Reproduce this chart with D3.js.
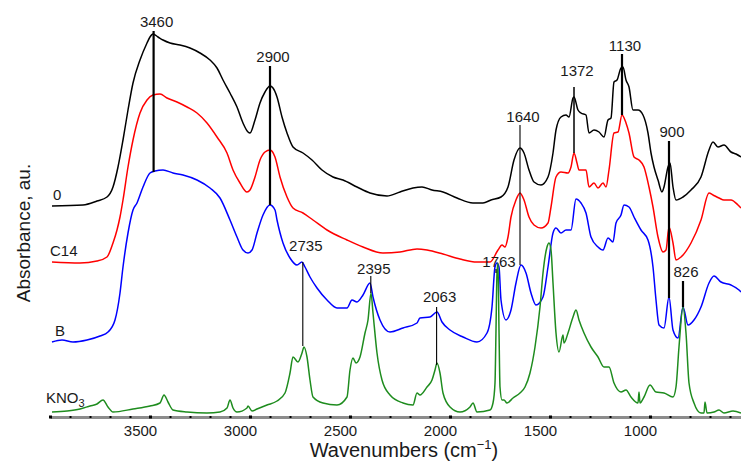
<!DOCTYPE html>
<html><head><meta charset="utf-8">
<script src="https://cdn.jsdelivr.net/npm/d3@7"></script>
<style>body{margin:0;background:#fff}svg{display:block;font-family:"Liberation Sans",Arial,sans-serif}</style>
</head><body><svg id="c" width="741" height="463"></svg>
<script>
// ---- data: [wavenumber (cm-1), absorbance (a.u., stacked)] ----
const series0 = [[3990,2.11],[3835,2.12],[3765,2.16],[3715,2.20],[3685,2.30],[3660,2.50],[3635,2.77],[3610,3.07],[3585,3.34],[3550,3.57],[3515,3.74],[3500,3.80],[3485,3.83],[3460,3.80],[3435,3.77],[3400,3.74],[3350,3.72],[3300,3.69],[3250,3.64],[3200,3.57],[3165,3.49],[3135,3.37],[3100,3.24],[3065,3.10],[3035,2.94],[3010,2.85],[3000,2.84],[2975,2.97],[2950,3.14],[2925,3.25],[2900,3.31],[2885,3.29],[2865,3.20],[2840,3.00],[2815,2.84],[2785,2.70],[2735,2.64],[2690,2.57],[2640,2.47],[2585,2.40],[2535,2.37],[2465,2.30],[2400,2.24],[2315,2.21],[2250,2.25],[2185,2.29],[2140,2.30],[2090,2.27],[2035,2.25],[1965,2.19],[1885,2.14],[1835,2.14],[1795,2.17],[1745,2.20],[1710,2.30],[1680,2.57],[1650,2.69],[1630,2.64],[1605,2.47],[1580,2.35],[1545,2.32],[1510,2.40],[1485,2.64],[1470,2.87],[1445,3.00],[1420,3.02],[1405,3.00],[1385,3.19],[1380,3.20],[1360,3.07],[1345,3.04],[1320,3.02],[1305,2.84],[1280,2.87],[1255,2.85],[1230,2.80],[1210,2.97],[1195,2.99],[1180,3.35],[1165,3.37],[1145,3.49],[1135,3.50],[1120,3.37],[1105,3.30],[1085,3.07],[1060,3.07],[1035,3.02],[1010,2.84],[995,2.64],[980,2.50],[960,2.37],[940,2.25],[930,2.30],[910,2.50],[900,2.54],[885,2.30],[870,2.17],[835,2.20],[795,2.27],[745,2.40],[705,2.67],[685,2.75],[660,2.70],[630,2.72],[595,2.65],[570,2.63],[545,2.60]];
const seriesC14 = [[3990,1.55],[3850,1.54],[3765,1.56],[3715,1.60],[3685,1.74],[3665,1.87],[3650,2.00],[3635,2.17],[3610,2.50],[3585,2.77],[3550,3.04],[3515,3.17],[3485,3.22],[3450,3.23],[3415,3.19],[3365,3.15],[3315,3.10],[3265,3.04],[3215,2.94],[3165,2.80],[3115,2.64],[3085,2.47],[3050,2.34],[3015,2.25],[3000,2.27],[2975,2.40],[2950,2.57],[2925,2.65],[2900,2.67],[2875,2.60],[2850,2.40],[2815,2.20],[2785,2.09],[2735,2.04],[2685,1.97],[2615,1.87],[2515,1.77],[2435,1.70],[2335,1.64],[2250,1.65],[2165,1.68],[2115,1.67],[2035,1.63],[1950,1.58],[1865,1.55],[1800,1.55],[1760,1.67],[1740,1.72],[1725,1.70],[1710,1.80],[1695,2.00],[1670,2.17],[1650,2.24],[1630,2.17],[1605,2.00],[1580,1.92],[1545,1.89],[1510,1.94],[1495,2.10],[1470,2.40],[1445,2.45],[1410,2.44],[1395,2.50],[1380,2.64],[1365,2.54],[1355,2.47],[1320,2.47],[1305,2.30],[1280,2.34],[1260,2.29],[1235,2.34],[1220,2.30],[1205,2.47],[1180,2.84],[1160,2.85],[1140,3.02],[1120,2.94],[1105,2.84],[1080,2.60],[1055,2.57],[1030,2.50],[1005,2.30],[985,2.10],[960,1.80],[935,1.65],[920,1.67],[905,1.90],[885,1.74],[870,1.57],[845,1.60],[795,1.74],[745,1.97],[705,2.24],[685,2.22],[655,2.19],[630,2.17],[595,2.17],[560,2.12],[545,2.09]];
const seriesB = [[3990,0.75],[3940,0.77],[3885,0.75],[3815,0.77],[3750,0.81],[3710,0.85],[3675,0.97],[3650,1.24],[3635,1.50],[3610,1.84],[3585,2.07],[3565,2.14],[3535,2.30],[3500,2.44],[3475,2.46],[3435,2.47],[3385,2.44],[3335,2.42],[3265,2.37],[3200,2.29],[3150,2.19],[3100,1.97],[3065,1.80],[3035,1.67],[3010,1.64],[2990,1.67],[2965,1.84],[2935,2.02],[2900,2.12],[2875,2.07],[2865,1.97],[2835,1.74],[2800,1.59],[2765,1.52],[2740,1.55],[2725,1.50],[2700,1.40],[2665,1.29],[2615,1.17],[2565,1.09],[2515,1.09],[2490,1.17],[2465,1.15],[2435,1.22],[2400,1.34],[2385,1.20],[2350,0.97],[2300,0.85],[2235,0.89],[2165,0.94],[2150,0.99],[2100,1.00],[2065,1.05],[2040,0.95],[2000,0.87],[1935,0.80],[1865,0.75],[1815,0.84],[1790,1.10],[1775,1.50],[1765,1.54],[1755,1.50],[1745,1.17],[1720,0.97],[1695,1.07],[1670,1.34],[1645,1.52],[1620,1.44],[1595,1.24],[1570,1.12],[1535,1.20],[1510,1.50],[1485,1.84],[1470,1.89],[1445,1.84],[1420,1.87],[1395,1.87],[1370,2.18],[1345,2.14],[1320,2.04],[1295,1.80],[1260,1.70],[1235,1.67],[1210,1.79],[1185,1.75],[1170,1.94],[1145,2.02],[1130,2.12],[1105,2.10],[1080,2.00],[1045,1.87],[1010,1.77],[985,1.50],[970,1.17],[955,0.92],[930,0.89],[905,1.20],[885,0.87],[860,0.79],[835,1.10],[810,0.92],[780,0.97],[745,1.10],[705,1.34],[680,1.41],[645,1.35],[595,1.32],[555,1.27],[545,1.25]];
const seriesKNO3 = [[3990,0.05],[3915,0.06],[3850,0.08],[3800,0.11],[3765,0.13],[3735,0.17],[3710,0.10],[3685,0.05],[3585,0.08],[3500,0.11],[3450,0.14],[3430,0.22],[3410,0.15],[3385,0.07],[3315,0.05],[3215,0.04],[3150,0.05],[3115,0.09],[3100,0.17],[3085,0.09],[3065,0.05],[3015,0.09],[3010,0.11],[2990,0.06],[2965,0.08],[2915,0.12],[2865,0.16],[2825,0.24],[2800,0.44],[2785,0.60],[2760,0.55],[2740,0.64],[2730,0.70],[2715,0.60],[2700,0.37],[2685,0.20],[2635,0.14],[2565,0.12],[2515,0.20],[2500,0.47],[2485,0.59],[2470,0.54],[2450,0.60],[2425,0.84],[2410,0.97],[2395,1.24],[2385,1.04],[2365,0.64],[2340,0.37],[2300,0.22],[2235,0.14],[2185,0.12],[2165,0.24],[2150,0.22],[2115,0.30],[2090,0.37],[2075,0.47],[2065,0.54],[2050,0.44],[2035,0.24],[2000,0.10],[1950,0.05],[1900,0.10],[1885,0.14],[1865,0.05],[1800,0.07],[1785,0.14],[1775,0.34],[1770,0.87],[1765,1.44],[1760,1.54],[1755,0.87],[1750,0.30],[1740,0.17],[1730,0.17],[1715,0.14],[1685,0.19],[1650,0.24],[1625,0.30],[1600,0.44],[1575,0.70],[1550,1.10],[1535,1.44],[1515,1.70],[1505,1.74],[1495,1.67],[1485,1.34],[1470,0.84],[1455,0.65],[1435,0.82],[1430,0.74],[1410,0.84],[1385,1.00],[1370,1.07],[1355,0.97],[1330,0.84],[1295,0.70],[1260,0.60],[1230,0.50],[1205,0.50],[1180,0.34],[1145,0.25],[1120,0.27],[1095,0.20],[1060,0.14],[1055,0.25],[1050,0.14],[1030,0.20],[1000,0.32],[970,0.25],[930,0.24],[885,0.20],[870,0.30],[855,0.70],[835,1.10],[820,0.84],[805,0.34],[780,0.14],[745,0.04],[730,0.04],[725,0.15],[715,0.04],[680,0.05],[655,0.07],[630,0.04],[585,0.06],[545,0.04]];

const seriesNames = ["0", "C14", "B", "KNO3"];
const seriesColors = ["#000000", "#ff0000", "#0000ff", "#1e8c1e"];
const seriesData = [series0, seriesC14, seriesB, seriesKNO3];

// peak annotations
const peakLabels = ["3460","2900","2735","2395","2063","1763","1640","1372","1130","900","826"];
const peakPos    = [3482, 2900, 2736, 2396, 2067, 1770, 1650, 1380, 1140, 905, 835];
const peakTop    = [3.86, 3.51, 1.55, 1.41, 1.10, 1.48, 2.92, 3.30, 3.63, 2.76, 1.36];
const peakBottom = [2.45, 2.12, 0.71, 1.24, 0.52, 1.44, 1.52, 2.64, 3.02, 1.19, 1.10];
const peakLabelY = [3.90, 3.55, 1.66, 1.43, 1.15, 1.50, 2.95, 3.41, 3.66, 2.80, 1.40];

const xTicks = d3.range(4000, 500, -100);
const xTickLabels = [3500, 3000, 2500, 2000, 1500, 1000];

// ---- drawing ----
const svg = d3.select("#c");
const x = d3.scaleLinear().domain([4000, 545]).range([50, 741]);
const y = d3.scaleLinear().domain([0, 4]).range([417, 17]);

const thick = new Set(["3460","2900","1130","900","826"]);
const medium = new Set(["1372"]);

// axis
const ax = svg.append("g").attr("transform", "translate(0,417)")
  .call(d3.axisBottom(x).tickValues(xTicks).tickSize(0).tickSizeOuter(0).tickPadding(8)
    .tickFormat(d => xTickLabels.includes(d) ? d : ""));
ax.select(".domain").attr("stroke", "#8c8c8c").attr("stroke-width", 3);
ax.selectAll(".tick text").attr("dx", -10).attr("font-size", 15).attr("fill", "#1a1a1a")
  .attr("font-family", "Liberation Sans, Arial, sans-serif");
ax.selectAll(".tick").append("rect")
  .attr("x", d => d % 500 === 0 ? -1.5 : -1)
  .attr("y", d => d % 500 === 0 ? -1.5 : -1)
  .attr("width", d => d % 500 === 0 ? 3 : 2)
  .attr("height", d => d % 500 === 0 ? 3 : 2)
  .attr("fill", "#000");

// curves
const line = d3.line().x(d => x(d[0])).y(d => y(d[1])).curve(d3.curveMonotoneX);
seriesData.forEach((s, i) => {
  svg.append("path").datum(s).attr("d", line)
    .attr("fill", "none").attr("stroke", seriesColors[i]).attr("stroke-width", 1.5)
    .attr("stroke-linejoin", "round");
});

// series labels
const lab = svg.append("g").attr("font-size", 15).attr("fill", "#1a1a1a");
seriesData.forEach((s, i) => {
  const t = lab.append("text").attr("x", i === 2 ? 55 : (i === 3 ? 46 : (i === 1 ? 50 : 53)))
    .attr("y", y(s[0][1]) - (i === 3 ? 9 : 6));
  if (seriesNames[i] === "KNO3") {
    t.text("KNO");
    t.append("tspan").attr("font-size", 11).attr("dy", 4).text("3");
  } else t.text(seriesNames[i]);
});

// peak lines + labels
peakLabels.forEach((p, i) => {
  const px = x(peakPos[i]);
  svg.append("line").attr("x1", px).attr("x2", px)
    .attr("y1", y(peakTop[i])).attr("y2", y(peakBottom[i]))
    .attr("stroke", "#000").attr("stroke-width", thick.has(p) ? 2.2 : (medium.has(p) ? 1.5 : 1.1));
  svg.append("text").attr("x", px + 3).attr("y", y(peakLabelY[i]))
    .attr("text-anchor", "middle").attr("font-size", 15).attr("fill", "#1a1a1a").text(p);
});

// axis titles
svg.append("text").attr("transform", "translate(30,233) rotate(-90)")
  .attr("text-anchor", "middle").attr("font-size", 19).attr("fill", "#1a1a1a").text("Absorbance, au.");
const xt = svg.append("text").attr("x", 404).attr("y", 457).attr("text-anchor", "middle")
  .attr("font-size", 20).attr("fill", "#1a1a1a").text("Wavenumbers (cm");
xt.append("tspan").attr("font-size", 13).attr("dy", -8).text("−1");
xt.append("tspan").attr("dy", 8).text(")");
</script></body></html>
